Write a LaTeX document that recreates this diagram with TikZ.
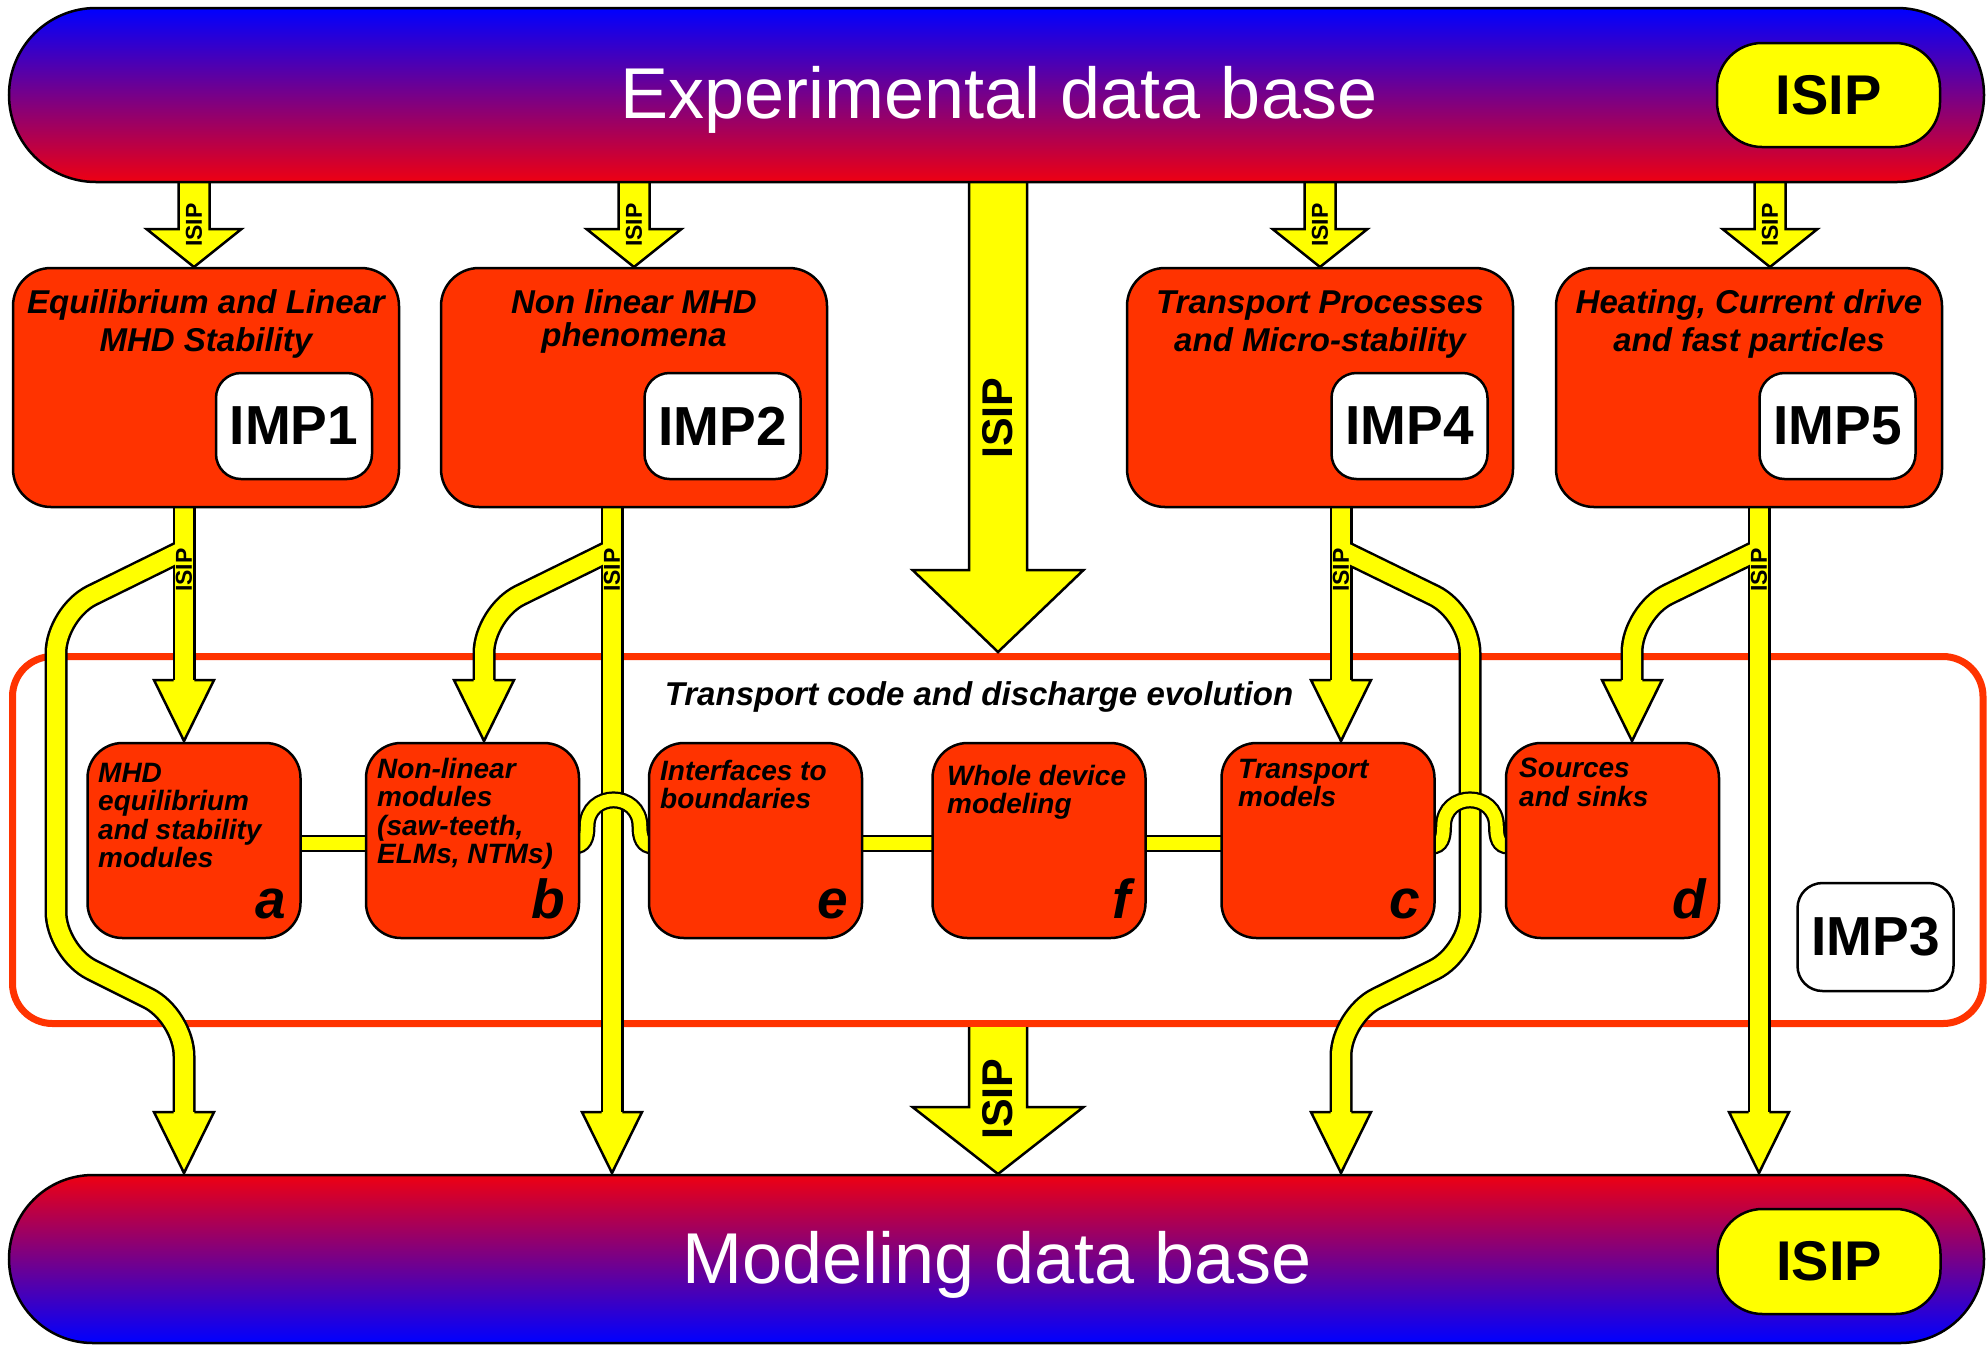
\documentclass[tikz,border=0pt]{standalone}
\usepackage{fontspec}
\setmainfont{Liberation Sans}
\usetikzlibrary{calc}
\definecolor{impred}{RGB}{255,51,0}
\definecolor{isipyellow}{RGB}{255,255,0}
\definecolor{dbblue}{RGB}{0,0,255}
\definecolor{dbred}{RGB}{238,0,18}
\pgfdeclarelayer{back}
\pgfsetlayers{back,main}
\newcommand\dgTitle{\fontsize{33}{36}\selectfont\bfseries\itshape}
\newcommand\dgMod{\fontsize{28}{30}\selectfont\bfseries\itshape}
\newcommand\dgLet{\fontsize{55}{60}\selectfont\bfseries\itshape}
\newcommand\dgImp{\fontsize{55}{60}\selectfont\bfseries}
\newcommand\dgBig{\fontsize{72}{80}\selectfont}
\newcommand\dgIsipS{\fontsize{23}{25}\selectfont\bfseries}
\newcommand\dgIsipM{\fontsize{43}{46}\selectfont\bfseries}
\newcommand\dgIsipL{\fontsize{56}{60}\selectfont\bfseries}
% full block arrow: cx, top y, head base y, tip y, shaft half, head half
\newcommand\dgarrow[6]{\filldraw[headline] (#1-#5,#2) -- (#1-#5,#3) -- (#1-#6,#3) -- (#1,#4) -- (#1+#6,#3) -- (#1+#5,#3) -- (#1+#5,#2);}
% arrow head only: cx, base y, tip y, shaft half, head half
\newcommand\dghead[5]{\filldraw[headline] (#1-#4,#2) -- (#1-#5,#2) -- (#1,#3) -- (#1+#5,#2) -- (#1+#4,#2);}
\tikzset{
 headline/.style={fill=isipyellow, draw=black, line width=2.5pt, line join=miter},
 barout/.style={draw=black, line width=23pt, line cap=butt},
 barin/.style={draw=isipyellow, line width=18pt, line cap=butt},
 hout/.style={draw=black, line width=17pt},
 hin/.style={draw=isipyellow, line width=12.5pt},
 redbox/.style={draw=black, line width=2.5pt, fill=impred, rounded corners=38pt, inner sep=0pt, minimum width=386pt, minimum height=239pt},
 modbox/.style={draw=black, line width=2.5pt, fill=impred, rounded corners=35pt, inner sep=0pt, minimum width=213pt, minimum height=195pt},
 impbox/.style={draw=black, line width=2.5pt, fill=white, rounded corners=25pt, inner sep=0pt, minimum width=156pt, minimum height=106pt, font=\dgImp},
 isipbadge/.style={draw=black, line width=2.5pt, fill=isipyellow, rounded corners=45pt, inner sep=0pt, minimum width=223pt, minimum height=105pt, font=\dgIsipL},
 banner/.style={draw=black, line width=2.5pt, inner sep=0pt, minimum width=1975pt},
 ttl/.style={anchor=base, font=\dgTitle, inner sep=0pt},
 mtxt/.style={anchor=base west, font=\dgMod, inner sep=0pt},
 mlet/.style={anchor=base east, font=\dgLet, inner sep=0pt},
 slab/.style={rotate=90, font=\dgIsipS, inner sep=0pt},
 blab/.style={rotate=90, font=\dgIsipM, inner sep=0pt},
}
\begin{document}
\begin{tikzpicture}[x=1pt,y=-1pt]
\useasboundingbox (0,0) rectangle (1988,1345);
% ---------- data bases ----------
\node[banner, minimum height=174pt, top color=dbblue, bottom color=dbred, rounded corners=87pt] (expdb) at (996.5,95) {};
\node[anchor=base, text=white, font=\dgBig, inner sep=0pt] (exptext) at (999,118) {Experimental data base};
\node[isipbadge, minimum height=104pt] (isiptop) at (1828.5,95) {ISIP};
\node[banner, minimum height=168pt, top color=dbred, bottom color=dbblue, rounded corners=84pt] (moddb) at (996.5,1259) {};
\node[anchor=base, text=white, font=\dgBig, inner sep=0pt] (modtext) at (997,1283) {Modeling data base};
\node[isipbadge] (isipbot) at (1829,1261.5) {ISIP};
% ---------- IMP boxes ----------
\node[redbox] (imp1) at (206,387.5) {};
\node[redbox] (imp2) at (634,387.5) {};
\node[redbox] (imp4) at (1320,387.5) {};
\node[redbox] (imp5) at (1749,387.5) {};
\node[impbox] (imp1l) at (294,426) {IMP1};
\node[impbox] (imp2l) at (722.5,426) {IMP2};
\node[impbox] (imp4l) at (1409.5,426) {IMP4};
\node[impbox] (imp5l) at (1837.5,426) {IMP5};
\node[ttl] (t1a) at (206,313) {Equilibrium and Linear};
\node[ttl] (t1b) at (206,351) {MHD Stability};
\node[ttl] (t2a) at (634,313) {Non linear MHD};
\node[ttl] (t2b) at (634,346) {phenomena};
\node[ttl] (t4a) at (1320,313) {Transport Processes};
\node[ttl] (t4b) at (1320,351) {and Micro-stability};
\node[ttl] (t5a) at (1749,313) {Heating, Current drive};
\node[ttl] (t5b) at (1749,351) {and fast particles};
% ---------- modules ----------
\node[modbox] (ma) at (194,840.5) {};
\node[modbox] (mb) at (472.5,840.5) {};
\node[modbox] (me) at (755.5,840.5) {};
\node[modbox] (mf) at (1039,840.5) {};
\node[modbox] (mc) at (1328,840.5) {};
\node[modbox] (md) at (1612.5,840.5) {};
\node[mtxt] (a1) at (98,782) {MHD};
\node[mtxt] (a2) at (98,810.5) {equilibrium};
\node[mtxt] (a3) at (98,839) {and stability};
\node[mtxt] (a4) at (98,867.5) {modules};
\node[mtxt] (b1) at (377,778) {Non-linear};
\node[mtxt] (b2) at (377,806.5) {modules};
\node[mtxt] (b3) at (377,835) {(saw-teeth,};
\node[mtxt] (b4) at (377,863.5) {ELMs, NTMs)};
\node[mtxt] (e1) at (660,780) {Interfaces to};
\node[mtxt] (e2) at (660,808.5) {boundaries};
\node[mtxt] (f1) at (947,785) {Whole device};
\node[mtxt] (f2) at (947,813.5) {modeling};
\node[mtxt] (c1) at (1238,778) {Transport};
\node[mtxt] (c2) at (1238,806.5) {models};
\node[mtxt] (d1) at (1519,777) {Sources};
\node[mtxt] (d2) at (1519,806) {and sinks};
\node[mlet] (la) at (286,918) {a};
\node[mlet] (lb) at (565,918) {b};
\node[mlet] (le) at (848,918) {e};
\node[mlet] (lf) at (1131,918) {f};
\node[mlet] (lc) at (1420,918) {c};
\node[mlet] (ld) at (1706,918) {d};
\node[impbox, minimum height=108pt] (imp3l) at (1875.5,937) {IMP3};
\node[ttl] (tcode) at (979,705) {Transport code and discharge evolution};
% ---------- ISIP labels ----------
\node[slab] (s1) at (194,225) {ISIP};
\node[slab] (s2) at (634,225) {ISIP};
\node[slab] (s4) at (1320,225) {ISIP};
\node[slab] (s5) at (1770,225) {ISIP};
\node[slab] (r1) at (184,570) {ISIP};
\node[slab] (r2) at (612,570) {ISIP};
\node[slab] (r4) at (1341,570) {ISIP};
\node[slab] (r5) at (1759,570) {ISIP};
\node[blab] (c1l) at (998,418) {ISIP};
\node[blab] (c2l) at (998,1099) {ISIP};
% ---------- background drawing ----------
\begin{pgfonlayer}{back}
\fill[white] (0,0) rectangle (1988,1345);
\node[draw=impred, line width=7pt, rounded corners=40pt, minimum width=1970.5pt, minimum height=367pt, inner sep=0pt] (imp3) at (997.75,840) {};
% links between modules
\foreach \p/\q in {ma/mb, me/mf, mf/mc}{
  \draw[hout] ([yshift=-3pt]\p.center) -- ([yshift=-3pt]\q.center);
  \draw[hin] ([yshift=-3pt]\p.center) -- ([yshift=-3pt]\q.center);
}
% arrows from experimental data base
\dgarrow{194}{175}{229}{267}{15.5}{47.5}
\dgarrow{634}{175}{229}{267}{15.5}{47.5}
\dgarrow{1320}{175}{229}{267}{15.5}{47.5}
\dgarrow{1770}{175}{229}{267}{15.5}{47.5}
% central arrows
\dgarrow{998}{175}{570}{652}{29}{85.5}
\dgarrow{998}{1027}{1107}{1174}{29}{85.5}
% IMP1 flows
\draw[barout] (184,500) -- (184,681);
\draw[barout, rounded corners=40pt] (184,550) -- (56,613) -- (56,952) -- (184,1016) -- (184,1113);
\draw[barin] (184,500) -- (184,681);
\draw[barin, rounded corners=40pt] (184,550) -- (56,613) -- (56,952) -- (184,1016) -- (184,1113);
\dghead{184}{680}{741}{10.3}{30}
\dghead{184}{1112}{1173}{10.3}{30}
% IMP2 flows
\draw[barout] (612,500) -- (612,1113);
\draw[barout, rounded corners=40pt] (612,550) -- (484,613) -- (484,681);
\draw[barin] (612,500) -- (612,1113);
\draw[barin, rounded corners=40pt] (612,550) -- (484,613) -- (484,681);
\dghead{484}{680}{741}{10.3}{30}
\dghead{612}{1112}{1173}{10.3}{30}
% IMP4 flows
\draw[barout] (1341,500) -- (1341,681);
\draw[barout, rounded corners=40pt] (1341,550) -- (1470,613) -- (1470,952) -- (1341,1016) -- (1341,1113);
\draw[barin] (1341,500) -- (1341,681);
\draw[barin, rounded corners=40pt] (1341,550) -- (1470,613) -- (1470,952) -- (1341,1016) -- (1341,1113);
\dghead{1341}{680}{741}{10.3}{30}
\dghead{1341}{1112}{1173}{10.3}{30}
% IMP5 flows
\draw[barout] (1759,500) -- (1759,1113);
\draw[barout, rounded corners=40pt] (1759,550) -- (1632,612) -- (1632,681);
\draw[barin] (1759,500) -- (1759,1113);
\draw[barin, rounded corners=40pt] (1759,550) -- (1632,612) -- (1632,681);
\dghead{1632}{680}{741}{10.3}{30}
\dghead{1759}{1112}{1173}{10.3}{30}
% hops over the vertical flows
\foreach \s in {hout, hin}{
  \draw[\s] (562,846) -- (574,846) .. controls (584,846) and (587,838) .. (587,826.5) .. controls (587,791) and (640,791) .. (640,826.5) .. controls (640,838) and (643,846) .. (653,846) -- (665,846);
  \draw[\s] (1420,846) -- (1432,846) .. controls (1441,846) and (1443.5,838) .. (1443.5,826.5) .. controls (1443.5,791) and (1496.5,791) .. (1496.5,826.5) .. controls (1496.5,838) and (1499,846) .. (1508,846) -- (1520,846);
}
\end{pgfonlayer}
\end{tikzpicture}
\end{document}
